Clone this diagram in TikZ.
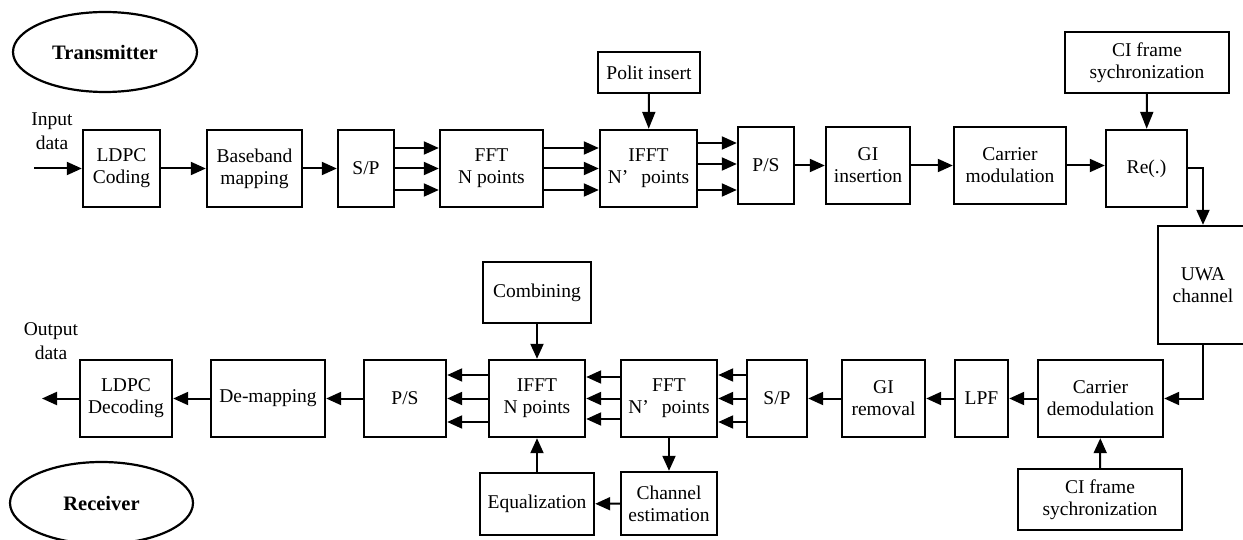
\documentclass[tikz,border=0pt]{standalone}
\usepackage{fontspec}
\setmainfont{Liberation Serif}
\usetikzlibrary{arrows.meta,shapes.geometric}
\begin{document}
\begin{tikzpicture}[x=1pt,y=-1pt,
  blk/.style={draw, line width=2.4pt, inner sep=0pt, align=center,
              font=\fontsize{19.5}{22}\selectfont},
  sz/.style 2 args={minimum width=#1pt, minimum height=#2pt},
  lbl/.style={inner sep=0pt, align=center, font=\fontsize{19.5}{24}\selectfont},
  oval/.style={draw, ellipse, line width=2.2pt, inner sep=0pt,
               font=\bfseries\fontsize{20.5}{24}\selectfont},
  arr/.style={line width=2pt, -{Triangle[length=15pt,width=13pt]}},
  varr/.style={line width=2pt, -{Triangle[length=17pt,width=13pt]}}
]
\useasboundingbox (0,0) rectangle (1243,540);
\clip (0,0) rectangle (1243,540);

% ---------- transmitter chain ----------
\node[oval, minimum width=184pt, minimum height=80pt] (tx) at (105,52) {Transmitter};
\node[lbl] (in) at (52,131) {Input\\data};
\coordinate (src) at (34,168.5);

\node[blk, sz={77}{77}]  (ldpc)  at (121.5,168.5) {LDPC\\Coding};
\node[blk, sz={95}{77}]  (bbm)   at (254.5,168.5) {Baseband\\mapping};
\node[blk, sz={56}{77}]  (sp)    at (366,168.5)   {S/P};
\node[blk, sz={103}{77}] (fft)   at (491.5,168.5) {FFT\\N points};
\node[blk, sz={97}{77}]  (ifft)  at (648.5,168.5) {IFFT\\N’\hspace{0.67em}points};
\node[blk, sz={102}{41}] (pilot) at (649,72.5)    {Polit insert};
\node[blk, sz={56}{77}]  (ps)    at (766,165.5)   {P/S};
\node[blk, sz={84}{77}]  (gi)    at (868,165.5)   {GI\\insertion};
\node[blk, sz={112}{77}] (cm)    at (1010,165.5)  {Carrier\\modulation};
\node[blk, sz={81}{77}]  (re)    at (1146.5,168.5) {Re(.)};
\node[blk, sz={164}{61}] (cis)   at (1147,62.5)   {CI frame\\sychronization};
\node[blk, sz={90}{118}] (uwa)   at (1203,285)    {UWA\\channel};

\draw[arr] (src) -- (ldpc);
\draw[arr] (ldpc) -- (bbm);
\draw[arr] (bbm) -- (sp);
\foreach \y in {148,168.5,190} {
  \draw[arr] (sp.east |- 0,\y) -- (fft.west |- 0,\y);
  \draw[arr] (fft.east |- 0,\y) -- (ifft.west |- 0,\y);
}
\foreach \y in {143,164,190}
  \draw[arr] (ifft.east |- 0,\y) -- (ps.west |- 0,\y);
\draw[varr] (pilot) -- (ifft);
\draw[arr] (ps) -- (gi);
\draw[arr] (gi) -- (cm);
\draw[arr] (cm.east) -- (re.west |- cm.east);
\draw[varr] (cis) -- (re);
\draw[arr] (re.east) -| (uwa.north);

% ---------- receiver chain ----------
\node[oval, minimum width=183pt, minimum height=82pt] (rx) at (101.5,503) {Receiver};
\node[lbl] (out) at (51,341) {Output\\data};
\coordinate (snk) at (42,398.5);

\node[blk, sz={125}{77}] (cdm)   at (1100.5,398.5) {Carrier\\demodulation};
\node[blk, sz={53}{77}]  (lpf)   at (981.5,398.5)  {LPF};
\node[blk, sz={83}{77}]  (gir)   at (883.5,398.5)  {GI\\removal};
\node[blk, sz={60}{77}]  (spr)   at (777,398.5)    {S/P};
\node[blk, sz={96}{77}]  (fftr)  at (669,398.5)    {FFT\\N’\hspace{0.67em}points};
\node[blk, sz={96}{77}]  (ifftr) at (537,398.5)    {IFFT\\N points};
\node[blk, sz={108}{61}] (comb)  at (537,292.5)    {Combining};
\node[blk, sz={114}{62}] (eq)    at (537,504)      {Equalization};
\node[blk, sz={96}{63}]  (ce)    at (669,503.5)    {Channel\\estimation};
\node[blk, sz={82}{77}]  (psr)   at (405,398.5)    {P/S};
\node[blk, sz={114}{77}] (dem)   at (268,398.5)    {De-mapping};
\node[blk, sz={92}{77}]  (ldpcd) at (126,398.5)    {LDPC\\Decoding};
\node[blk, sz={164}{61}] (cisr)  at (1100,499.5)   {CI frame\\sychronization};

\draw[arr] (uwa.south) |- (cdm.east);
\draw[arr] (cisr) -- (cdm);
\draw[arr] (cdm) -- (lpf);
\draw[arr] (lpf) -- (gir);
\draw[arr] (gir) -- (spr);
\foreach \y in {375,398.5,422}
  \draw[arr] (spr.west |- 0,\y) -- (fftr.east |- 0,\y);
\foreach \y in {377,398.5,419}
  \draw[arr] (fftr.west |- 0,\y) -- (ifftr.east |- 0,\y);
\foreach \y in {375,398.5,422}
  \draw[arr] (ifftr.west |- 0,\y) -- (psr.east |- 0,\y);
\draw[arr] (comb) -- (ifftr);
\draw[arr] (eq) -- (ifftr);
\draw[arr] (fftr) -- (ce);
\draw[arr] (ce) -- (eq);
\draw[arr] (psr) -- (dem);
\draw[arr] (dem) -- (ldpcd);
\draw[arr] (ldpcd) -- (snk);
\end{tikzpicture}
\end{document}
